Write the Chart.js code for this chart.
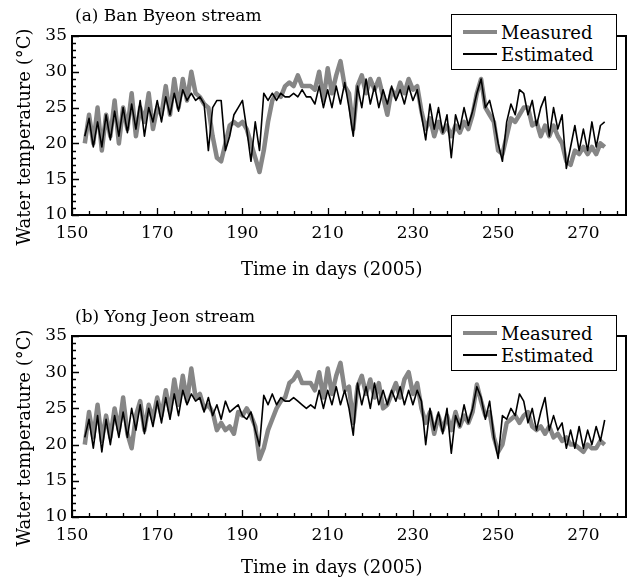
<!DOCTYPE html>
<html>
<head>
<meta charset="utf-8">
<script src="https://cdn.jsdelivr.net/npm/chart.js@4.4.1/dist/chart.umd.min.js"></script>
<style>
  body { margin: 0; background: #fff; }
  #wrap { position: relative; width: 635px; height: 582px; font-family: "DejaVu Serif", serif; color: #000; }
  .panel { position: absolute; left: 0; width: 635px; height: 291px; }
  .tag { position: absolute; left: 75px; font-size: 17px; line-height: 20px; }
  .legend { position: absolute; left: 451px; width: 166px; height: 56px; border: 1.5px solid #000;
            background: #fff; box-sizing: border-box; font-size: 18px; padding-top: 6px; }
  .row { display: flex; align-items: center; height: 22px; }
  .swatch { display: inline-block; width: 34px; margin: 0 4px 0 11px; }
</style>
</head>
<body>
<div id="wrap">
  <canvas id="chartA" class="panel" width="635" height="291" style="top:0"></canvas>
  <canvas id="chartB" class="panel" width="635" height="291" style="top:291px"></canvas>
  <div class="tag" style="top:5px">(a) Ban Byeon stream</div>
  <div class="tag" style="top:306px">(b) Yong Jeon stream</div>
  <div class="legend" id="legendA" style="top:14px"></div>
  <div class="legend" id="legendB" style="top:315px"></div>
</div>
<script>
"use strict";

// days 153 .. 275 (2005), one value per day
const days = Array.from({ length: 123 }, (v, k) => 153 + k);
const xTicks = [150, 170, 190, 210, 230, 250, 270];

// (a) Ban Byeon stream
const measuredA = [
  20, 24, 20, 25, 19, 24, 21, 26, 20, 25,
  22, 27, 21, 25, 23, 27, 22, 25, 24, 28,
  24, 29, 25, 29, 26, 30, 27, 26.5, 25.5, 25,
  21, 18, 17.5, 20, 22.5, 23, 22.5, 23, 22, 20,
  18, 16, 19, 23, 26, 27, 26.5, 28, 28.5, 28,
  29.5, 28, 28, 28, 27.5, 30, 26, 30.5, 27, 29.5,
  31.5, 28, 27, 22, 28, 29.5, 27, 29, 27.5, 29,
  26.5, 24, 27.5, 26.5, 28.5, 27, 29, 27.5, 28, 24.5,
  22, 23.5, 21, 23, 21.5, 22.5, 21, 22.5, 21.5, 23,
  22, 24, 27, 29, 25, 24, 23, 19, 18.5, 21,
  23.5, 23, 24, 25, 25, 22.5, 23, 21, 22.5, 21,
  22.5, 21, 20, 17.5, 17, 19, 18.5, 19.5, 18.5, 19.5,
  18.5, 20, 19.5
];
const estimatedA = [
  21, 23.5, 19.5, 23, 19.5, 24, 20.5, 24.5, 21, 25,
  21.5, 25.5, 22, 26, 21, 25, 23, 26, 23, 26.5,
  24, 27, 24.5, 27.5, 26, 27, 26, 26.5, 25.5, 19,
  25, 26, 26, 19, 21, 24, 25, 26, 22, 17.5,
  23, 19, 27, 26, 27, 26, 27, 26.5, 26.5, 27,
  26.5, 27.5, 26.5, 26.5, 25.5, 28, 25, 27.5, 25, 28,
  25.5, 28.5, 25, 21, 28, 25, 29, 25.5, 28, 25,
  27.5, 25.5, 28, 26, 27.5, 25.5, 28, 26, 27.5, 24,
  20.5, 25.5, 22, 25, 21.5, 24, 18, 24, 22, 25,
  22.5, 24.5, 27, 29, 25, 26, 23.5, 20, 17.5, 23,
  25.5, 24, 27.5, 27, 24, 26, 22.5, 25, 26.5, 21,
  25, 22, 24, 16.5, 19.5, 22.5, 19, 22, 19, 23,
  19.5, 22.5, 23
];

// (b) Yong Jeon stream
const measuredB = [
  20, 24.5, 21, 25.5, 20.5, 24, 21, 25, 22, 26.5,
  21.5, 19.5, 24, 26, 22, 25.5, 23.5, 26.5, 24, 27.5,
  24.5, 29, 25.5, 29.5, 26, 30.5, 26.5, 27, 25, 25.5,
  24.5, 22, 23, 22, 22.5, 21.5, 24.5, 24, 25, 24,
  22.5, 18, 19.5, 22, 23.5, 25, 26, 26.5, 28.5, 29,
  30, 28.5, 28.5, 28.5, 27.5, 30, 26.5, 30.5, 27, 29.5,
  31.3, 27.5, 28, 23, 28, 29.5, 27, 29, 26.5, 28.5,
  25, 25.5, 27, 28.5, 26.5, 29, 30, 27, 28.5, 25,
  23, 24.5, 21.5, 24, 22, 24, 22, 24.5, 22.5, 24,
  23, 24.5, 28.3, 26, 24, 24.5, 21, 19, 20, 23,
  23.5, 24, 23, 24, 24.5, 22.5, 22, 22.5, 21.5, 22.5,
  21, 21.5, 20.5, 21, 20, 20, 19.5, 19, 20, 19.5,
  19.5, 20.5, 20
];
const estimatedB = [
  21, 23.5, 19.5, 24, 19, 23.5, 20, 24, 21, 24.5,
  21, 25, 22, 25.5, 21.5, 25, 22.5, 26, 23, 26.5,
  23.5, 27, 24, 27.5, 25.5, 27, 26, 26.5, 24.5, 26.5,
  24, 25.5, 23.5, 26, 24.5, 25, 25.5, 24, 23.5, 24.5,
  22, 19.8, 26.8, 25.5, 27, 25.5, 26.5, 26, 26, 26.5,
  26, 25.5, 25, 25.5, 25, 27.5, 25, 27.5, 25.5, 28,
  25.5, 27.5, 25, 21.3, 28.5, 25.5, 28, 25, 28.5, 25.5,
  27.5, 25.5, 27.5, 26, 28, 25.5, 27.5, 25.5, 27.5, 26,
  20, 25, 22, 24.5, 21.5, 25, 18.8, 24, 22.5, 25.5,
  23, 25, 28, 26.5, 23.5, 26, 21, 18.1, 24, 23.5,
  25, 24, 27, 26, 23, 25, 22, 24.5, 26.5, 22,
  24, 22, 23, 19.5, 22, 19.5, 22.5, 19.5, 22, 20,
  22.5, 20.5, 23.4
];

const FONT = "DejaVu Serif";
const GRAY = "#868686";
// trailing no-break spaces nudge the centred axis titles as in the original figure
const X_TITLE = "Time in days (2005)" + "\u00a0".repeat(6);
const Y_TITLE = "Water temperature (°C)" + "\u00a0".repeat(4);

// frame box and inward ticks (major every 20 days / 5 °C)
const frameTicks = {
  id: "frameTicks",
  afterDatasetsDraw(chart) {
    const { ctx, chartArea: a, scales: { x, y } } = chart;
    ctx.save();
    ctx.strokeStyle = "#000";
    ctx.lineWidth = 1.3;
    ctx.beginPath();
    for (let d = 150; d <= 280; d += 4) {
      const px = Math.round(x.getPixelForValue(d)) + 0.5;
      const len = (d - 150) % 20 === 0 ? 7 : 4;
      ctx.moveTo(px, a.bottom);
      ctx.lineTo(px, a.bottom - len);
    }
    for (let t = 10; t <= 35; t++) {
      const py = Math.round(y.getPixelForValue(t)) + 0.5;
      const len = t % 5 === 0 ? 7 : 4;
      ctx.moveTo(a.left, py);
      ctx.lineTo(a.left + len, py);
    }
    ctx.stroke();
    ctx.lineWidth = 2;
    ctx.strokeRect(a.left, a.top, a.right - a.left, a.bottom - a.top);
    ctx.restore();
  },
};

function makeChart(id, measured, estimated, top, bottom, titlePad) {
  const H = 291;
  const config = {
    type: "line",
    data: {
      datasets: [
        {
          label: "Measured",
          data: days.map((d, i) => ({ x: d, y: measured[i] })),
          borderColor: GRAY,
          borderWidth: 4.5,
          order: 2,
        },
        {
          label: "Estimated",
          data: days.map((d, i) => ({ x: d, y: estimated[i] })),
          borderColor: "#000",
          borderWidth: 1.6,
          order: 1,
        },
      ],
    },
    options: {
      responsive: false,
      animation: false,
      pointRadius: 0,
      tension: 0,
      borderJoinStyle: "round",
      layout: { padding: { top: top, right: 9, left: 0, bottom: 0 } },
      plugins: { legend: { display: false }, tooltip: { enabled: false } },
      scales: {
        x: {
          type: "linear",
          min: 150,
          max: 280,
          grid: { display: false, drawTicks: false },
          border: { display: false },
          afterBuildTicks: (s) => { s.ticks = xTicks.map((v) => ({ value: v })); },
          afterFit: (s) => { s.height = H - bottom; },
          ticks: { color: "#000", padding: 8, maxRotation: 0, font: { family: FONT, size: 17 } },
          title: {
            display: true,
            text: X_TITLE,
            color: "#000",
            padding: { top: 0, bottom: titlePad },
            font: { family: FONT, size: 18 },
          },
        },
        y: {
          min: 10,
          max: 35,
          grid: { display: false, drawTicks: false },
          border: { display: false },
          afterFit: (s) => { s.width = 72; },
          ticks: { stepSize: 5, color: "#000", padding: 5, font: { family: FONT, size: 17 } },
          title: {
            display: true,
            text: Y_TITLE,
            color: "#000",
            padding: { top: 15, bottom: 0 },
            font: { family: FONT, size: 18 },
          },
        },
      },
    },
    plugins: [frameTicks],
  };
  return new Chart(document.getElementById(id), config);
}

function fillLegend(chart, id) {
  const box = document.getElementById(id);
  chart.data.datasets.forEach((ds) => {
    const row = document.createElement("div");
    row.className = "row";
    const sw = document.createElement("span");
    sw.className = "swatch";
    sw.style.height = ds.borderWidth + "px";
    sw.style.background = ds.borderColor;
    row.appendChild(sw);
    row.appendChild(document.createTextNode(ds.label));
    box.appendChild(row);
  });
}

const chartA = makeChart("chartA", measuredA, estimatedA, 36, 215, 10);
const chartB = makeChart("chartB", measuredB, estimatedB, 45, 226, 3);
fillLegend(chartA, "legendA");
fillLegend(chartB, "legendB");
</script>
</body>
</html>
